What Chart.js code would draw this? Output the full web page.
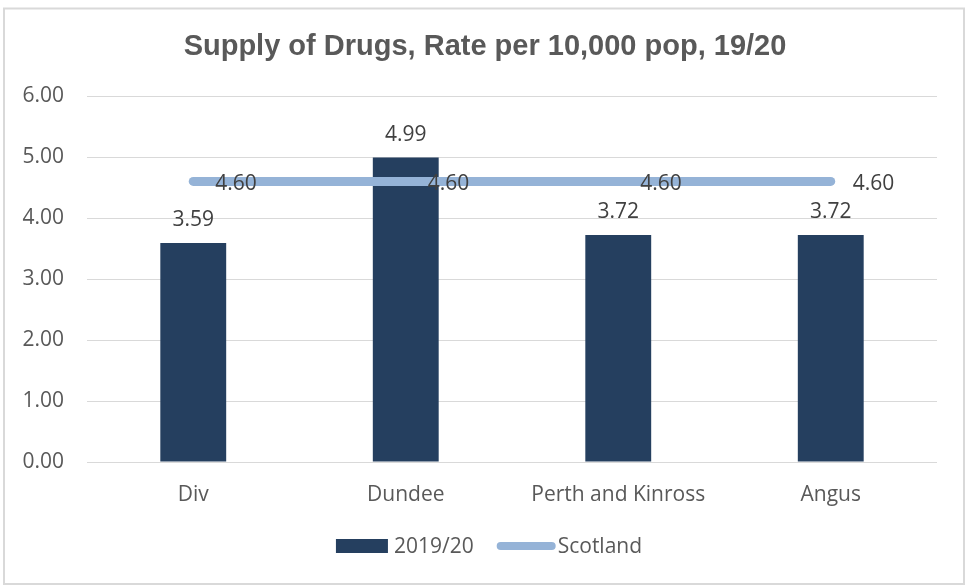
<!DOCTYPE html>
<html><head><meta charset="utf-8">
<script src="https://cdn.jsdelivr.net/npm/chart.js@4"></script>
<style>html,body{margin:0;padding:0;background:#fff}#wrap{width:965px;height:585px;position:relative}canvas{display:block}</style>
</head><body><div id="wrap"><canvas id="c" width="965" height="585"></canvas></div>
<script>
const chartTitle = 'Supply of Drugs, Rate per 10,000 pop, 19/20';
const categories = ['Div', 'Dundee', 'Perth and Kinross', 'Angus'];
const rate1920 = [3.59, 4.99, 3.72, 3.72];
const scotland = [4.60, 4.60, 4.60, 4.60];
const seriesNames = ['2019/20', 'Scotland'];
const yMin = 0, yMax = 6, yStep = 1;

const BAR_COLOR = '#253F5F';
const LINE_COLOR = '#95B3D7';
const LABEL_FONT = "21px 'Open Sans'";
const TEXT_COLOR = '#404040';
const TICK_COLOR = '#595959';

const deco = {
  id: 'deco',
  beforeDraw(chart) {
    const ctx = chart.ctx;
    ctx.save();
    ctx.fillStyle = '#ffffff';
    ctx.fillRect(0, 0, chart.width, chart.height);
    ctx.strokeStyle = '#D9D9D9';
    ctx.lineWidth = 2;
    ctx.strokeRect(4, 8.5, 960, 575.5);
    ctx.fillStyle = '#595959';
    ctx.font = "bold 29px 'Liberation Sans', Arial";
    ctx.textAlign = 'center';
    ctx.textBaseline = 'alphabetic';
    ctx.fillText(chartTitle, 485, 55);
    ctx.restore();
  },
  afterDatasetsDraw(chart) {
    const ctx = chart.ctx;
    ctx.save();
    ctx.font = LABEL_FONT;
    ctx.fillStyle = TEXT_COLOR;
    ctx.textBaseline = 'alphabetic';
    // line labels
    const lineMeta = chart.getDatasetMeta(1);
    ctx.textAlign = 'left';
    lineMeta.data.forEach((pt, i) => {
      ctx.fillText(scotland[i].toFixed(2), pt.x + 22, pt.y + 8.5);
    });
    // bar labels
    const barMeta = chart.getDatasetMeta(0);
    ctx.textAlign = 'center';
    barMeta.data.forEach((bar, i) => {
      ctx.fillText(rate1920[i].toFixed(2), bar.x, bar.y - 17);
    });
    // legend
    const w1 = ctx.measureText(seriesNames[0]).width;
    const w2 = ctx.measureText(seriesNames[1]).width;
    const total = 52 + 6 + w1 + 23 + 59 + 2 + w2;
    let x = 489 - total / 2;
    const yBase = 553;
    ctx.fillStyle = BAR_COLOR;
    ctx.fillRect(x, 539, 52, 14);
    x += 58;
    ctx.fillStyle = TICK_COLOR;
    ctx.textAlign = 'left';
    ctx.fillText(seriesNames[0], x, yBase);
    x += w1 + 23;
    ctx.strokeStyle = LINE_COLOR;
    ctx.lineWidth = 8;
    ctx.lineCap = 'round';
    ctx.beginPath();
    ctx.moveTo(x + 4, 546);
    ctx.lineTo(x + 55, 546);
    ctx.stroke();
    x += 61;
    ctx.fillText(seriesNames[1], x, yBase);
    ctx.restore();
  }
};

new Chart(document.getElementById('c'), {
  type: 'bar',
  data: {
    labels: categories,
    datasets: [
      {
        type: 'bar', label: seriesNames[0], data: rate1920,
        backgroundColor: BAR_COLOR, borderWidth: 0,
        categoryPercentage: 1.0, barPercentage: 0.31, order: 2
      },
      {
        type: 'line', label: seriesNames[1], data: scotland,
        borderColor: LINE_COLOR, backgroundColor: LINE_COLOR,
        borderWidth: 9, borderCapStyle: 'round', pointRadius: 0,
        pointHoverRadius: 0, fill: false, tension: 0, order: 1
      }
    ]
  },
  options: {
    responsive: false,
    animation: false,
    devicePixelRatio: 1,
    layout: { padding: { left: 0, right: 28, top: 96, bottom: 63 } },
    plugins: { legend: { display: false }, title: { display: false }, tooltip: { enabled: false } },
    scales: {
      x: {
        offset: true,
        grid: { display: false },
        border: { display: false },
        ticks: { color: TICK_COLOR, font: { family: "'Open Sans'", size: 21 }, padding: 12, maxRotation: 0 },
        afterFit(scale) { scale.height = 60; }
      },
      y: {
        min: yMin, max: yMax,
        grid: { color: '#D9D9D9', lineWidth: 1, drawTicks: false },
        border: { display: false },
        ticks: {
          stepSize: yStep, color: TICK_COLOR, padding: 23,
          font: { family: "'Open Sans'", size: 21 },
          callback: v => Number(v).toFixed(2)
        },
        afterFit(scale) { scale.width = 87; }
      }
    }
  },
  plugins: [deco]
});
</script>
</body></html>
